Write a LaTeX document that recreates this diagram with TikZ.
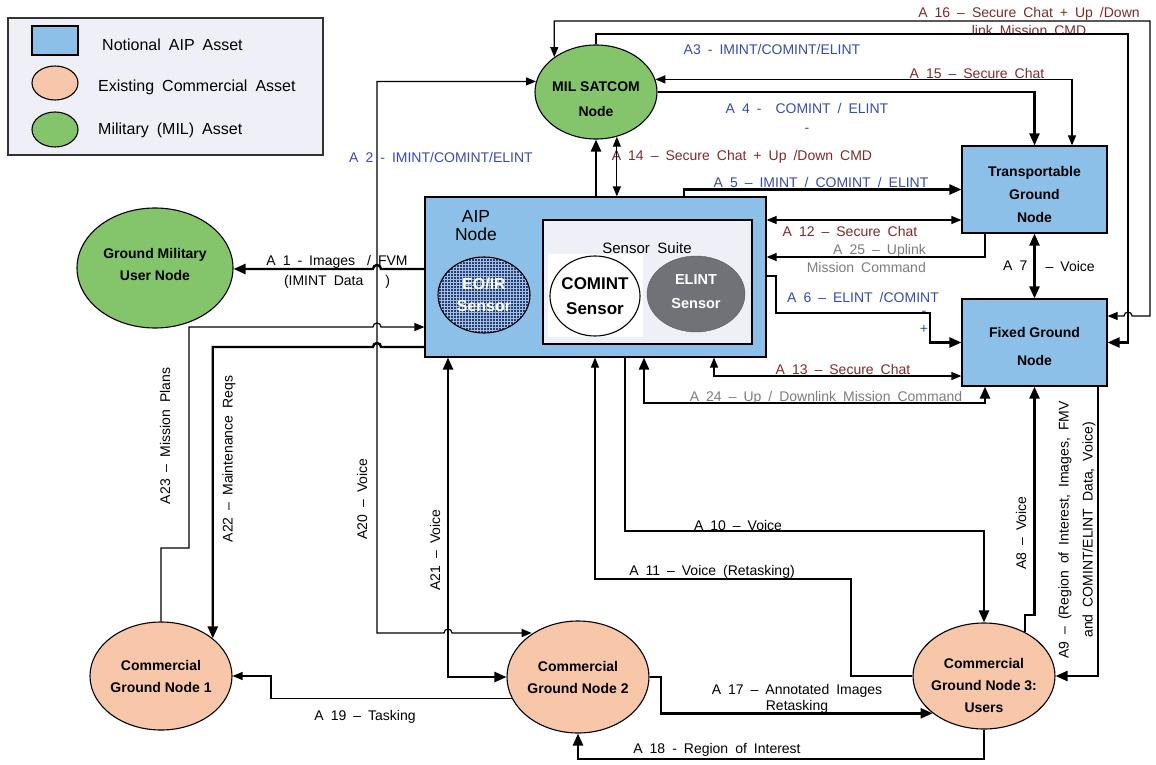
\documentclass[tikz,border=0pt]{standalone}
\usepackage{fontspec}
\setmainfont[WordSpace=1.8]{Liberation Sans}
\newfontfamily\nodefont{Liberation Sans}
\usetikzlibrary{shapes.geometric,arrows.meta,patterns}

\definecolor{aipblue}{RGB}{141,192,232}
\definecolor{compeach}{RGB}{248,198,168}
\definecolor{milgreen}{RGB}{132,196,106}
\definecolor{legendbg}{RGB}{239,239,247}
\definecolor{elintgray}{RGB}{112,114,120}
\definecolor{eoirnavy}{RGB}{40,62,110}
\definecolor{eoirgrid}{RGB}{160,190,230}
\definecolor{lblblue}{RGB}{55,75,170}
\definecolor{lblred}{RGB}{128,42,42}
\definecolor{lblgray}{RGB}{125,125,125}

\begin{document}
\begin{tikzpicture}[x=1pt,y=-1pt,
every node/.style={inner sep=0pt},
conn/.style={line width=1.2pt,>={Triangle[length=10pt,width=8pt]}},
heavy/.style={line width=2.4pt,>={Triangle[length=12pt,width=10pt]}},
asset/.style={draw,line width=1.1pt,ellipse},
aipbox/.style={draw,line width=1.2pt,fill=aipblue},
nodetext/.style={font=\nodefont\bfseries\fontsize{14}{#1}\selectfont,align=center},
nodetext/.default=22,
lbl/.style={font=\fontsize{14}{18}\selectfont,align=center},
lblb/.style={lbl,text=lblblue},
lblr/.style={lbl,text=lblred},
lblg/.style={lbl,text=lblgray}]
\useasboundingbox (0,0) rectangle (1156,765);

% legend
\node[draw=black!80,line width=1.2pt,fill=legendbg,minimum width=315pt,minimum height=137pt] (legend) at (165.5,86.5) {};
\node[aipbox,minimum width=46pt,minimum height=29pt] (keyaip) at (55,40.5) {};
\node[asset,fill=compeach,minimum width=46pt,minimum height=34pt] (keycom) at (55,83) {};
\node[asset,fill=milgreen,minimum width=46pt,minimum height=35pt] (keymil) at (55,129.5) {};
\node[font=\fontsize{16}{18}\selectfont,anchor=west] (keyaiptext) at (102,45) {Notional AIP Asset};
\node[font=\fontsize{16}{18}\selectfont,anchor=west] (keycomtext) at (98,87) {Existing Commercial Asset};
\node[font=\fontsize{16}{18}\selectfont,anchor=west] (keymiltext) at (98,130) {Military (MIL) Asset};

% nodes
\node[asset,fill=milgreen,minimum width=122pt,minimum height=94pt,label={[nodetext=25,yshift=-7pt]center:{MIL SATCOM\\Node}}] (milsat) at (596,92) {};
\node[asset,fill=milgreen,minimum width=156pt,minimum height=120pt,label={[nodetext=22,yshift=3.5pt]center:{Ground Military\\User Node}}] (gmil) at (155,268) {};
\node[aipbox,minimum width=341pt,minimum height=160pt] (aip) at (595.5,277) {};
\node[font=\fontsize{17.5}{18}\selectfont,align=center] (aiptext) at (476,226) {AIP\\Node};
\node[draw,line width=1.1pt,fill=legendbg,minimum width=209pt,minimum height=124pt] (suite) at (647.5,282) {};
\node[font=\fontsize{15}{18}\selectfont] (suitetext) at (647,248) {Sensor Suite};
\fill[white] (548,254) rectangle (643,337);
\node[draw,line width=1.1pt,ellipse,preaction={fill=eoirnavy},pattern=grid,pattern color=eoirgrid,minimum width=92pt,minimum height=76pt,label={[font=\nodefont\bfseries\fontsize{16}{22}\selectfont,align=center,text=white]center:{EO/IR\\Sensor}}] (eoir) at (484,295) {};
\node[asset,fill=white,minimum width=90pt,minimum height=80pt,label={[font=\nodefont\bfseries\fontsize{17}{25}\selectfont,align=center]center:{COMINT\\Sensor}}] (comint) at (595,296) {};
\node[ellipse,fill=elintgray,draw=elintgray!80!black,minimum width=98pt,minimum height=76pt,label={[font=\nodefont\bfseries\fontsize{14.5}{24}\selectfont,align=center,text=white,yshift=2pt]center:{ELINT\\Sensor}}] (elint) at (696,294) {};
\node[aipbox,minimum width=145pt,minimum height=87pt,label={[nodetext=23,yshift=-5pt]center:{Transportable\\Ground\\Node}}] (tgn) at (1034.5,189.5) {};
\node[aipbox,minimum width=145pt,minimum height=87pt,label={[nodetext=28,yshift=-3.5pt]center:{Fixed Ground\\Node}}] (fgn) at (1034.5,342.5) {};
\node[asset,fill=compeach,minimum width=142pt,minimum height=108pt,label={[nodetext=22]center:{Commercial\\Ground Node 1}}] (cgn1) at (161,676) {};
\node[asset,fill=compeach,minimum width=142pt,minimum height=112pt,label={[nodetext=22]center:{Commercial\\Ground Node 2}}] (cgn2) at (578,677) {};
\node[asset,fill=compeach,minimum width=142pt,minimum height=106pt,label={[nodetext=22,yshift=-9pt]center:{Commercial\\Ground Node 3:\\Users}}] (cgn3) at (984,676) {};

% labels
\node[lbl,font=\fontsize{14}{20}\selectfont] (la1) at (337,272) {A 1 - Images\hspace{12pt}/ FVM\\(IMINT Data\hspace{22pt})};
\node[lblb] (la2) at (441,157) {A 2 - IMINT/COMINT/ELINT};
\node[lblb] (la3) at (772,49) {A3 - IMINT/COMINT/ELINT};
\node[lblb,font=\fontsize{14}{19}\selectfont] (la4) at (807,117.5) {A 4 -\quad COMINT / ELINT\\-};
\node[lblb] (la5) at (821,182) {A 5 – IMINT / COMINT / ELINT};
\node[lblb] (la6) at (863,297) {A 6 – ELINT /COMINT};
\node[lblb] (la6b) at (924,313) {-};
\node[lblb] (la6c) at (924,329) {+};
\node[lbl,rotate=90] (la8) at (1021,533) {A8 – Voice};
\node[lbl,rotate=90,font=\fontsize{14}{24}\selectfont] (la9) at (1077,530) {A9 – (Region of Interest, Images, FMV\\and COMINT/ELINT Data, Voice)};
\node[lbl] (la10) at (738,525) {A 10 – Voice};
\node[lbl] (la11) at (712,572) {A 11 – Voice (Retasking)};
\node[lblr] (la12) at (850,231) {A 12 – Secure Chat};
\node[lblr] (la13) at (843,369) {A 13 – Secure Chat};
\node[lblr] (la14) at (742,157) {A 14 – Secure Chat + Up /Down CMD};
\node[lblr] (la15) at (977,73) {A 15 – Secure Chat};
\node[lblr] (la16) at (1029,21) {A 16 – Secure Chat + Up /Down\\link Mission CMD};
\node[lbl,font=\fontsize{14}{16}\selectfont] (la17) at (797,699) {A 17 – Annotated Images\\Retasking};
\node[lbl] (la18) at (717,750) {A 18 - Region of Interest};
\node[lbl] (la19) at (365,717) {A 19 – Tasking};
\node[lbl,rotate=90] (la20) at (362,499) {A20 – Voice};
\node[lbl,rotate=90] (la21) at (435,550) {A21 – Voice};
\node[lbl,rotate=90] (la22) at (229,459) {A22 – Maintenance Reqs};
\node[lbl,rotate=90] (la23) at (165,436) {A23 – Mission Plans};
\node[lblg] (la24) at (826,398) {A 24 – Up / Downlink Mission Command};
\node[lblg,align=right,anchor=east] (la25) at (926,258.5) {A 25 – Uplink\\Mission Command};

% connectors
\draw[heavy,->] (aip.west |- 0,269) -- (381,269) arc (0:-180:4) -- (gmil.east |- 0,269);
\draw[conn,<->] (milsat.170) -- (milsat.170 -| 377,0) -- (377,633) -- (444,633) arc (180:360:4) -- (377,633 -| cgn2.137);
\draw[heavy,->] (milsat.north) -- (milsat.north |- 0,34) -- (1128,34) -- (fgn.east -| 1128,0) -- (fgn.east);
\draw[heavy,->] (milsat.east) -- (milsat.east -| tgn.north) -- (tgn.north);
\draw[heavy,->] (aip.north -| 684,0) -- (684,0 |- tgn.west) -- (tgn.west);
\draw[heavy,->] (aip.east |- 0,276) -- (776,276) -- (776,313) -- (930,313) -- (930,0 |- fgn.west) -- (fgn.west);
\draw[heavy,<->] (tgn.south) -- (fgn.north)
  node[pos=0.5,anchor=east,xshift=-6pt,lbl] (la7a) {A 7}
  node[pos=0.5,anchor=west,xshift=10pt,lbl] (la7b) {– Voice};
\draw[heavy,->] (cgn3.47) -- (cgn3.47 |- 0,615) -- (fgn.south |- 0,615) -- (fgn.south);
\draw[heavy,->] (fgn.south -| 1098,0) -- (1098,0 |- cgn3.east) -- (cgn3.east);
\draw[heavy,->] (aip.south -| 625,0) -- (625,531) -- (cgn3.north |- 0,531) -- (cgn3.north);
\draw[conn,->] (cgn3.west) -- (cgn3.west -| 851,0) -- (851,579) -- (595,579) -- (aip.south -| 595,0);
\draw[conn,<->] (aip.east |- 0,220) -- (tgn.west |- 0,220);
\draw[conn,<->] (aip.south -| 714,0) -- (714,376) -- (fgn.west |- 0,376);
\draw[conn,<->] (aip.north -| milsat.295.5) -- (milsat.295.5);
\draw[heavy,->] (aip.north -| milsat.south) -- (milsat.south);
\draw[conn,<->] (milsat.12) -- (milsat.12 -| 1072,0) -- (tgn.north -| 1072,0);
\draw[conn,<->] (milsat.140) -- (milsat.140 |- 0,21) -- (1150,21) -- (1150,316) -- (1132,316) arc (0:-180:4) -- (fgn.east |- 0,316);
\draw[heavy,->] (cgn2.east) -- (cgn2.east -| 661,0) -- (cgn3.216 -| 661,0) -- (cgn3.216);
\draw[heavy,->] (cgn3.south) -- (cgn3.south |- 0,759) -- (cgn2.south |- 0,759) -- (cgn2.south);
\draw[conn,->] (cgn2.198) -- (cgn2.198 -| 271,0) -- (271,0 |- cgn1.east) -- (cgn1.east);
\draw[heavy,<->] (aip.south -| 448,0) -- (448,0 |- cgn2.west) -- (cgn2.west);
\draw[heavy,->] (aip.west |- 0,347) -- (381,347) arc (0:-180:4) -- (cgn1.36 |- 0,347) -- (cgn1.36);
\draw[conn,->] (cgn1.north) -- (cgn1.north |- 0,548) -- (189,548) -- (189,327) -- (373,327) arc (180:360:4) -- (aip.west |- 0,327);
\draw[heavy,<->] (aip.south -| 644,0) -- (644,403) -- (985,403) -- (fgn.south -| 985,0);
\draw[conn,->] (tgn.south -| 985,0) -- (985,257) -- (aip.east |- 0,257);
\end{tikzpicture}
\end{document}
